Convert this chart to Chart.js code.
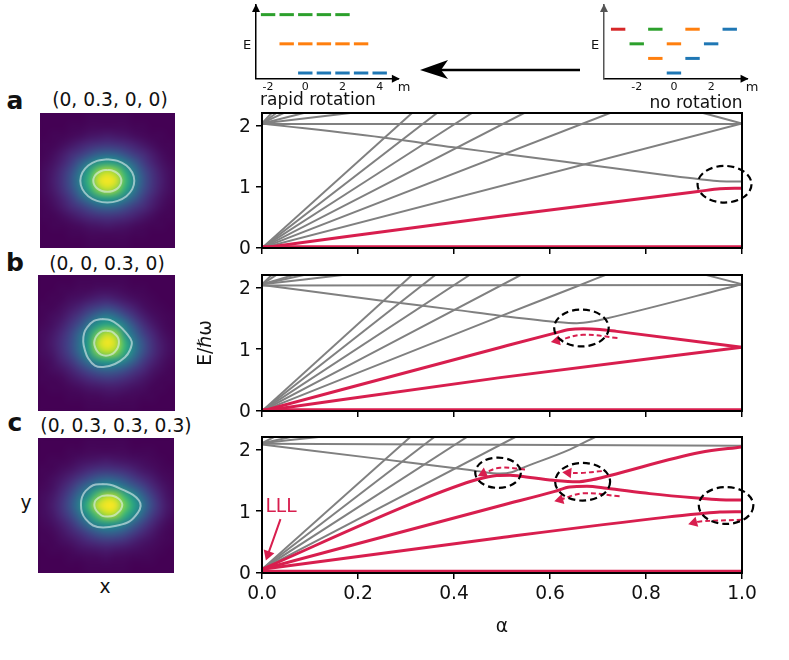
<!DOCTYPE html>
<html>
<head>
<meta charset="utf-8">
<style>
  html, body { margin: 0; padding: 0; background: #fff; }
  body { position: relative; width: 789px; height: 660px; overflow: hidden; font-family: "DejaVu Sans", sans-serif; color: #111; }
  canvas { position: absolute; }
  .txt { position: absolute; white-space: nowrap; transform: translate(-50%, -50%); line-height: 1; }
  svg { position: absolute; left: 0; top: 0; }
</style>
<script src="https://cdn.jsdelivr.net/npm/chart.js@4"></script>
</head>
<body>
<svg width="789" height="110">
  <line x1="580" y1="70" x2="432" y2="70" stroke="#000" stroke-width="2.5"/>
  <path d="M420 70 L448 60 L441 70 L448 79 Z" fill="#000"/>
</svg>
<canvas id="levelsLeft"></canvas>
<canvas id="levelsRight"></canvas>
<canvas id="heatA"></canvas>
<canvas id="heatB"></canvas>
<canvas id="heatC"></canvas>
<canvas id="panelA"></canvas>
<canvas id="panelB"></canvas>
<canvas id="panelC"></canvas>
<script>
// level diagrams at the top: m and level number
const rapidGreen = [[-2,4],[-1,4],[0,4],[1,4],[2,4]];
const rapidOrange = [[-1,2],[0,2],[1,2],[2,2],[3,2]];
const rapidBlue = [[0,0],[1,0],[2,0],[3,0],[4,0]];
const restRed = [[-3,3]];
const restGreen = [[-1,3],[-2,2]];
const restOrange = [[1,3],[0,2],[-1,1]];
const restBlue = [[3,3],[2,2],[1,1],[0,0]];
const tickM = [-2,0,2,4];

// spectrum tick labels
const tickAlpha = [0,0.2,0.4,0.6,0.8,1];
const tickE = [0,1,2];

// panel a, alpha vs E
const aGrey = [
  [[0,0],[0.3125,2.2]], [[0,0],[0.3646,2.2]], [[0,0],[0.4374,2.2]],
  [[0,0],[0.546,2.2]], [[0,0],[0.725,2.2]], [[0,0],[1,2.03]],
  [[0,2.03],[0.02,2.2]], [[0,2.03],[0.03,2.2]], [[0,2.03],[0.045,2.2]],
  [[0,2.03],[0.087,2.2]], [[0,2.03],[0.184,2.2]], [[0,2.02],[1,2.02]],
  [[0.919,2.2],[1,2.03]],
  [[0,2.03],[0.267,1.785],[0.399,1.64],[0.51,1.528],[0.669,1.365],[0.843,1.186],[0.912,1.12],[0.954,1.088],[1,1.083]]
];
const aRed = [
  [[0,0.02],[1,0.02]],
  [[0,0],[0.496,0.517],[0.912,0.925],[0.954,0.965],[1,0.975]]
];
const aRings = [[0.9636,1.039,0.0562,0.2985]];
const aArrows = [];

// panel b
const bGrey = [
  [[0,0],[0.3125,2.2]], [[0,0],[0.361,2.2]], [[0,0],[0.4325,2.2]],
  [[0,0],[0.539,2.2]], [[0,0],[0.496,1.53],[0.654,2.01],[0.715,2.2]],
  [[0,2.05],[0.02,2.2]], [[0,2.05],[0.03,2.2]], [[0,2.05],[0.066,2.2]],
  [[0,2.05],[0.087,2.2]], [[0,2.05],[0.168,2.2]], [[0,2.03],[1,2.04]],
  [[0.926,2.2],[1,2.05]],
  [[0,2.04],[0.254,1.778],[0.399,1.64],[0.496,1.54],[0.607,1.445],[0.656,1.42],[0.69,1.45],[0.717,1.495],[1,2.05]]
];
const bRed = [
  [[0,0.02],[1,0.02]],
  [[0,0],[0.496,0.54],[1,1.03]],
  [[0,0],[0.496,1.028],[0.61,1.26],[0.641,1.32],[0.669,1.33],[0.704,1.32],[0.739,1.288],[1,1.03]]
];
const bRings = [[0.6655,1.343,0.0568,0.2985]];
const bArrows = [[[0.7405,1.18],[0.669,1.233],[0.614,1.135]]];
const bHeadTurn = [-102];

// panel c
const cGrey = [
  [[0,0.06],[0.309,2.2]], [[0,0.06],[0.359,2.2]], [[0,0.06],[0.427,2.2]],
  [[0,0.06],[0.5276,2.2]],
  [[0,2.1],[0.025,2.2]], [[0,2.1],[0.06,2.2]], [[0,2.1],[0.118,2.2]],
  [[0,2.09],[1,2.06]],
  [[0,2.08],[0.253,1.838],[0.399,1.7],[0.448,1.648],[0.496,1.61],[0.52,1.63],[0.538,1.687],[0.642,2],[0.694,2.2]]
];
const cRed = [
  [[0,0.03],[1,0.03]],
  [[0,0.06],[0.496,0.571],[0.843,0.904],[0.912,0.958],[0.954,0.985],[1,0.99]],
  [[0,0.06],[0.496,1.088],[0.61,1.32],[0.641,1.393],[0.677,1.403],[0.718,1.37],[0.808,1.284],[0.906,1.213],[0.954,1.186],[1,1.18]],
  [[0,0.06],[0.323,1.158],[0.448,1.512],[0.489,1.578],[0.517,1.582],[0.538,1.566],[0.607,1.5],[0.656,1.475],[0.69,1.512],[0.725,1.578],[0.912,1.948],[1,2.04]]
];
const cRings = [[0.4918,1.622,0.0475,0.245],[0.668,1.476,0.0572,0.305],[0.9668,1.092,0.0568,0.2985]];
const cArrows = [
  [[0.548,1.675],[0.496,1.703],[0.461,1.61]],
  [[0.708,1.648],[0.663,1.618],[0.638,1.622]],
  [[0.745,1.24],[0.669,1.289],[0.621,1.185]],
  [[1,0.86],[0.913,0.835],[0.9,0.815]]
];
const cHeadTurn = [-115,-85,-105,-105];
const lllArrow = [[0.0385,0.871],[0.0125,0.3]];

// density images, 15 x 15 cells, top row first, percent
const densityA = [
  [0,0,0,0,0,1,1,1,1,1,0,0,0,0,0],
  [0,0,0,1,1,2,2,2,2,2,1,1,0,0,0],
  [0,1,1,2,3,5,6,7,6,5,3,2,1,1,0],
  [1,1,3,6,9,12,14,15,14,12,9,6,3,1,1],
  [1,3,7,12,17,23,29,31,29,23,17,12,7,3,1],
  [2,5,10,18,29,41,52,56,52,41,29,18,10,5,2],
  [3,7,14,24,40,60,82,92,82,60,40,24,14,7,3],
  [3,8,15,27,45,68,96,100,96,68,45,27,15,8,3],
  [3,7,14,24,40,60,82,92,82,60,40,24,14,7,3],
  [2,5,10,18,29,41,52,56,52,41,29,18,10,5,2],
  [1,3,7,12,17,23,29,31,29,23,17,12,7,3,1],
  [1,1,3,6,9,12,14,15,14,12,9,6,3,1,1],
  [0,1,1,2,3,5,6,7,6,5,3,2,1,1,0],
  [0,0,0,1,1,2,2,2,2,2,1,1,0,0,0],
  [0,0,0,0,0,1,1,1,1,1,0,0,0,0,0]
];
const densityB = [
  [0,0,0,0,1,1,1,1,1,1,0,0,0,0,0],
  [0,0,1,1,2,2,3,3,3,2,1,1,0,0,0],
  [0,1,1,3,4,6,8,9,7,5,3,2,1,0,0],
  [1,1,3,6,9,14,18,21,18,12,8,4,2,1,0],
  [1,3,5,10,16,25,34,41,34,24,15,8,4,2,1],
  [2,4,8,15,24,38,52,60,54,41,25,14,7,3,1],
  [3,6,11,20,33,50,76,92,84,50,34,20,11,5,2],
  [3,7,13,22,36,55,90,100,94,66,42,26,14,7,3],
  [3,6,12,21,34,52,80,90,84,62,42,25,14,7,3],
  [2,4,9,15,25,38,50,56,52,43,30,18,10,5,2],
  [1,3,5,9,15,22,28,31,29,24,17,11,6,3,1],
  [1,1,2,5,8,11,14,16,15,12,9,6,3,1,1],
  [0,1,1,2,3,5,6,7,7,6,4,3,1,1,0],
  [0,0,0,1,1,2,2,3,3,2,2,1,1,0,0],
  [0,0,0,0,0,1,1,1,1,1,1,0,0,0,0]
];
const densityC = [
  [0,0,0,0,0,1,1,1,1,1,0,0,0,0,0],
  [0,0,0,1,1,2,2,2,2,2,1,1,1,0,0],
  [0,1,1,2,4,5,6,7,6,5,4,3,2,1,0],
  [1,1,3,5,8,11,14,15,14,12,9,6,4,2,1],
  [1,3,6,10,16,22,28,31,29,24,18,12,8,4,2],
  [2,4,9,16,26,37,47,52,50,40,30,22,13,7,3],
  [3,6,12,22,36,50,74,90,88,68,50,33,20,10,4],
  [3,7,14,25,42,66,93,100,100,80,60,40,24,12,5],
  [3,6,12,21,34,51,73,90,88,67,50,33,19,10,4],
  [2,4,8,14,24,37,48,54,52,45,32,21,12,6,2],
  [1,2,5,9,14,21,28,32,31,26,19,12,7,3,1],
  [1,1,3,5,8,11,14,16,15,13,9,6,4,2,1],
  [0,1,1,2,4,5,6,7,6,5,4,3,2,1,0],
  [0,0,0,1,1,2,2,3,2,2,1,1,1,0,0],
  [0,0,0,0,0,1,1,1,1,1,0,0,0,0,0]
];

// contour lines over the images, in cell units, y up
const contourA = [
  [[7.48,9.86],[6.33,9.68],[5.36,9.16],[4.71,8.38],[4.48,7.46],[4.71,6.54],[5.36,5.76],[6.33,5.24],[7.48,5.06],[8.63,5.24],[9.6,5.76],[10.25,6.54],[10.48,7.46],[10.25,8.38],[9.6,9.16],[8.63,9.68],[7.48,9.86]],
  [[7.48,8.68],[6.88,8.59],[6.38,8.32],[6.04,7.93],[5.92,7.46],[6.04,6.99],[6.38,6.6],[6.88,6.33],[7.48,6.24],[8.08,6.33],[8.58,6.6],[8.92,6.99],[9.04,7.46],[8.92,7.93],[8.58,8.32],[8.08,8.59],[7.48,8.68]]
];
const contourB = [
  [[6.96,10.15],[6.12,9.93],[5.38,9.23],[5.05,8.57],[4.95,7.65],[5.13,6.73],[5.49,5.81],[6.23,5.0],[7.14,4.85],[8.42,5.18],[9.52,5.92],[10.07,6.73],[10.26,7.65],[9.63,8.64],[8.79,9.49],[7.88,10.04],[6.96,10.15]],
  [[7.51,8.86],[7.0,8.79],[6.59,8.49],[6.3,8.09],[6.15,7.54],[6.26,7.02],[6.52,6.54],[6.92,6.21],[7.44,6.1],[7.98,6.21],[8.42,6.54],[8.75,7.02],[8.86,7.57],[8.79,8.01],[8.53,8.38],[8.06,8.75],[7.51,8.86]]
];
const contourC = [
  [[7.17,9.9],[6.07,9.75],[5.26,9.12],[4.85,8.42],[4.74,7.57],[4.85,6.72],[5.26,5.98],[6.07,5.28],[7.17,5.06],[8.64,5.25],[10.1,5.73],[11.03,6.72],[11.32,7.46],[11.14,8.05],[10.48,8.68],[9.38,9.23],[8.27,9.72],[7.17,9.9]],
  [[7.72,8.64],[7.1,8.57],[6.62,8.31],[6.32,8.02],[6.21,7.57],[6.32,7.13],[6.62,6.72],[7.1,6.35],[7.72,6.28],[8.35,6.39],[8.82,6.72],[9.15,7.09],[9.3,7.57],[9.15,7.98],[8.82,8.31],[8.38,8.53],[7.72,8.64]]
];

const viridis = ['#440154','#482878','#3e4989','#31688e','#26828e','#1f9e89','#35b779','#6ece58','#b5de2b','#fde725'];
const RED = '#d81e4e', GREY = '#808080';
const FONT = 18.7;

Chart.defaults.font.family = '"DejaVu Sans", sans-serif';
Chart.defaults.color = '#111';
Chart.defaults.animation = false;

function place(id, left, top, width, height) {
  const c = document.getElementById(id);
  c.width = width; c.height = height;
  c.style.left = left + 'px'; c.style.top = top + 'px';
  c.style.width = width + 'px'; c.style.height = height + 'px';
  return c;
}

function label(text, x, y, size, extra) {
  const d = document.createElement('div');
  d.className = 'txt';
  d.textContent = text;
  d.style.left = x + 'px'; d.style.top = y + 'px';
  d.style.fontSize = size + 'px';
  if (extra) Object.assign(d.style, extra);
  document.body.appendChild(d);
}

function xy(pts) { return pts.map(p => ({x: p[0], y: p[1]})); }

function hex(c) { return [1,3,5].map(i => parseInt(c.substr(i,2),16)); }
function cmap(v) {
  const t = Math.min(v,1)*(viridis.length-1), i = Math.min(Math.floor(t), viridis.length-2), f = t-i;
  const a = hex(viridis[i]), b = hex(viridis[i+1]);
  return a.map((p,k) => p+(b[k]-p)*f);
}

// ---- density panels
function heatmap(id, left, top, w, h, grid, contours) {
  const canvas = place(id, left, top, w, h);
  const paint = {
    id: 'paint',
    beforeDatasetsDraw(chart) {
      const n = grid.length, off = document.createElement('canvas');
      off.width = n; off.height = n;
      const oc = off.getContext('2d'), img = oc.createImageData(n,n);
      grid.forEach((row,r) => row.forEach((v,c) => {
        const rgb = cmap(v/100), o = (r*n+c)*4;
        img.data[o]=rgb[0]; img.data[o+1]=rgb[1]; img.data[o+2]=rgb[2]; img.data[o+3]=255;
      }));
      oc.putImageData(img,0,0);
      const {x,y} = chart.scales, g = chart.ctx;
      const x0 = x.getPixelForValue(0), x1 = x.getPixelForValue(n), y0 = y.getPixelForValue(n), y1 = y.getPixelForValue(0);
      g.save();
      g.fillStyle = viridis[0];
      g.fillRect(x0, y0, x1-x0, y1-y0);
      g.imageSmoothingEnabled = true;
      g.imageSmoothingQuality = 'high';
      g.filter = 'blur(2px)';
      g.drawImage(off, x0, y0, x1-x0, y1-y0);
      g.restore();
    }
  };
  new Chart(canvas, {
    type: 'scatter',
    data: {datasets: contours.map(c => ({
      data: xy(c), showLine: true, borderColor: 'rgba(225,240,240,0.6)', borderWidth: 2, pointRadius: 0, tension: 0.38
    }))},
    plugins: [paint],
    options: {
      responsive: false,
      layout: {padding: 0, autoPadding: false},
      plugins: {legend: {display: false}, tooltip: {enabled: false}},
      scales: {
        x: {display: false, min: 0, max: 15},
        y: {display: false, min: 0, max: 15}
      }
    }
  });
}

// ---- spectrum panels
const frame = {
  id: 'frame',
  afterDatasetsDraw(chart, args, opts) {
    const g = chart.ctx, a = chart.chartArea, {x,y} = chart.scales;
    g.save();
    g.strokeStyle = '#000'; g.lineWidth = 2;
    g.strokeRect(a.left, a.top, a.right-a.left, a.bottom-a.top);
    g.lineWidth = 2.2;
    g.setLineDash([7,4]);
    (opts.rings || []).forEach(r => {
      const cx = x.getPixelForValue(r[0]), cy = y.getPixelForValue(r[1]);
      const rx = x.getPixelForValue(r[0]+r[2])-cx, ry = cy-y.getPixelForValue(r[1]+r[3]);
      g.beginPath(); g.ellipse(cx,cy,rx,ry,0,0,Math.PI*2); g.stroke();
    });
    g.restore();
  }
};

function arrowSet(pts, turn, dash, width, size) {
  return {
    data: xy(pts), showLine: true, clip: false, borderColor: RED, borderWidth: width, borderDash: dash,
    tension: 0.4, pointStyle: 'triangle', pointRotation: turn, backgroundColor: RED, pointBackgroundColor: RED,
    pointBorderWidth: 0, pointRadius: c => c.dataIndex === pts.length-1 ? size : 0
  };
}

function spectrum(id, top, plotH, bottomH, grey, red, rings, arrows, turns, o) {
  const canvas = place(id, 195, top-20, 594, 20+plotH+bottomH);
  const sets = [];
  arrows.forEach((a,i) => sets.push(arrowSet(a, turns[i], [5,3], 2, 6)));
  if (o.lll) sets.push(arrowSet(o.lll, 199, [], 2, 6.5));
  red.forEach(c => sets.push({data: xy(c), showLine: true, borderColor: RED, borderWidth: 3, pointRadius: 0, cubicInterpolationMode: 'monotone'}));
  grey.forEach(c => sets.push({data: xy(c), showLine: true, borderColor: GREY, borderWidth: 2, pointRadius: 0, cubicInterpolationMode: 'monotone'}));
  new Chart(canvas, {
    type: 'scatter',
    data: {datasets: sets},
    plugins: [frame],
    options: {
      responsive: false,
      layout: {padding: {top: 20, right: 47, left: 0, bottom: 0}, autoPadding: false},
      plugins: {legend: {display: false}, tooltip: {enabled: false}, frame: {rings}},
      scales: {
        x: {
          min: 0, max: 1,
          afterBuildTicks: s => { s.ticks = tickAlpha.map(v => ({value: v})); },
          afterFit: s => { s.height = bottomH; },
          grid: {drawOnChartArea: false, color: '#000', lineWidth: 1.5, tickLength: 6},
          border: {color: '#000', width: 2},
          ticks: {font: {size: FONT}, color: '#111', padding: 4, maxRotation: 0, autoSkip: false,
            callback: v => o.xLabels ? v.toFixed(1) : ''},
          title: {display: !!o.xTitle, text: o.xTitle, font: {size: FONT}, color: '#111', padding: {top: 0, bottom: 10}}
        },
        y: {
          min: 0, max: 2.2,
          afterBuildTicks: s => { s.ticks = tickE.map(v => ({value: v})); },
          afterFit: s => { s.width = 67; },
          grid: {drawOnChartArea: false, color: '#000', lineWidth: 1.5, tickLength: 6},
          border: {color: '#000', width: 2},
          ticks: {font: {size: FONT}, color: '#111', padding: 5, labelOffset: 1.5, autoSkip: false, callback: v => v},
          title: {display: !!o.yTitle, text: o.yTitle, font: {size: FONT}, color: '#111', padding: {top: 0, bottom: 0}}
        }
      }
    }
  });
}

// ---- level diagrams
const arrowTips = {
  id: 'arrowTips',
  afterDraw(chart, args, opts) {
    const g = chart.ctx, a = chart.chartArea;
    g.save();
    g.fillStyle = '#000';
    g.beginPath(); g.moveTo(a.right+1,a.bottom); g.lineTo(a.right-7,a.bottom-4); g.lineTo(a.right-7,a.bottom+4); g.fill();
    g.fillStyle = opts.yColor;
    g.beginPath(); g.moveTo(a.left,a.top-1); g.lineTo(a.left-4,a.top+7); g.lineTo(a.left+4,a.top+7); g.fill();
    g.restore();
  }
};

function levels(id, left, minM, maxM, groups, ticks, yColor) {
  const canvas = place(id, left-6, 0, 160, 100);
  new Chart(canvas, {
    type: 'scatter',
    data: {datasets: groups.map(g => ({
      data: xy(g.pts), clip: false, pointStyle: 'line', pointRadius: 7.2, pointBorderWidth: 3, borderColor: g.color, pointBorderColor: g.color
    }))},
    plugins: [arrowTips],
    options: {
      responsive: false,
      layout: {padding: {top: 5, right: 160-6-(maxM-minM)*18.6, left: 0, bottom: 0}, autoPadding: false},
      plugins: {legend: {display: false}, tooltip: {enabled: false}, arrowTips: {yColor}},
      scales: {
        x: {
          min: minM, max: maxM,
          afterBuildTicks: s => { s.ticks = ticks.map(v => ({value: v})); },
          afterFit: s => { s.height = 21.3; },
          grid: {display: false, drawTicks: false},
          border: {color: '#000', width: 1.5},
          ticks: {font: {size: 11}, color: '#111', padding: 2, maxRotation: 0, autoSkip: false, callback: v => v}
        },
        y: {
          min: -0.39, max: 4.66,
          afterFit: s => { s.width = 6; },
          grid: {display: false, drawTicks: false},
          border: {color: yColor, width: 1.5},
          ticks: {display: false}
        }
      }
    }
  });
}

levels('levelsLeft', 255.7, -2.65, 5.03, [
  {pts: rapidGreen, color: '#2ca02c'}, {pts: rapidOrange, color: '#ff7f0e'}, {pts: rapidBlue, color: '#1f77b4'}
], tickM, '#000');
levels('levelsRight', 604, -3.76, 3.96, [
  {pts: restRed, color: '#d62728'}, {pts: restGreen, color: '#2ca02c'}, {pts: restOrange, color: '#ff7f0e'}, {pts: restBlue, color: '#1f77b4'}
], tickM.slice(0,3), '#555');

heatmap('heatA', 40, 113, 135, 135, densityA, contourA);
heatmap('heatB', 38, 275, 137, 136, densityB, contourB);
heatmap('heatC', 38, 438, 136, 135, densityC, contourC);

spectrum('panelA', 113, 135, 20, aGrey, aRed, aRings, aArrows, [], {});
spectrum('panelB', 275, 136, 20, bGrey, bRed, bRings, bArrows, bHeadTurn, {yTitle: 'E/ℏω'});
spectrum('panelC', 437, 136, 75, cGrey, cRed, cRings, cArrows, cHeadTurn, {xLabels: true, xTitle: 'α', lll: lllArrow});

label('a', 15, 100, 25, {fontWeight: 'bold'});
label('b', 15, 262, 25, {fontWeight: 'bold'});
label('c', 15, 422, 25, {fontWeight: 'bold'});
label('(0, 0.3, 0, 0)', 110, 100, FONT);
label('(0, 0, 0.3, 0)', 107, 264, FONT);
label('(0, 0.3, 0.3, 0.3)', 116, 426, FONT);
label('y', 26, 503, FONT);
label('x', 105, 587, FONT);
label('LLL', 281, 506, FONT, {color: RED});
label('E', 247, 44, 13);
label('E', 595, 44, 13);
label('m', 404, 86, 13);
label('m', 752, 86, 13);
label('rapid rotation', 318, 99, 17);
label('no rotation', 696, 102, 17);
</script>
</body>
</html>
